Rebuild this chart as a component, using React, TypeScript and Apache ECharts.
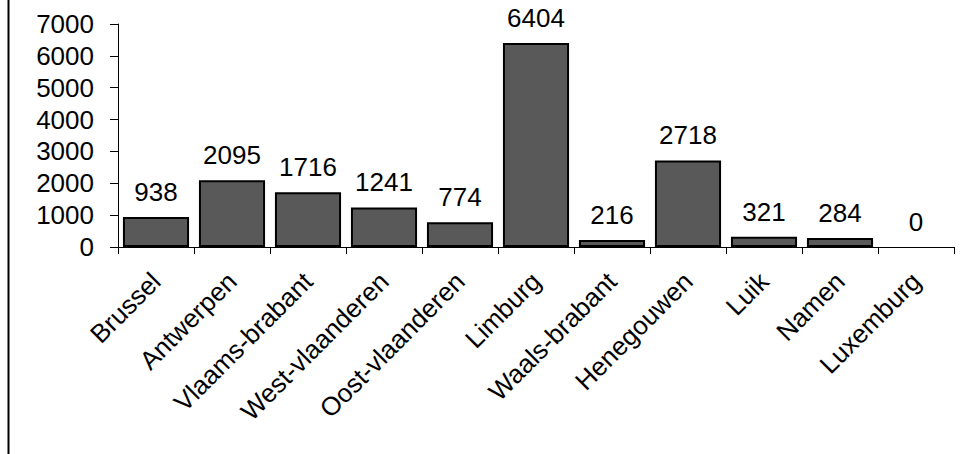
import React, { useEffect, useRef } from "react";
import * as echarts from "echarts";

const categories = [
  "Brussel",
  "Antwerpen",
  "Vlaams-brabant",
  "West-vlaanderen",
  "Oost-vlaanderen",
  "Limburg",
  "Waals-brabant",
  "Henegouwen",
  "Luik",
  "Namen",
  "Luxemburg",
];
const values = [938, 2095, 1716, 1241, 774, 6404, 216, 2718, 321, 284, 0];
const yMin = 0;
const yMax = 7000;
const yStep = 1000;

const FONT = "'Liberation Sans', Arial, sans-serif";

export default function App() {
  const ref = useRef<HTMLDivElement>(null);
  useEffect(() => {
    document.body.style.margin = "0";
    if (!ref.current) return;
    const chart = echarts.init(ref.current, undefined, { renderer: "svg" });
    chart.setOption({
      animation: false,
      backgroundColor: "#ffffff",
      grid: { left: 118, right: 13, top: 24, bottom: 207, containLabel: false },
      graphic: [
        {
          type: "line",
          shape: { x1: 8.5, y1: 0, x2: 8.5, y2: 454 },
          style: { stroke: "#000000", lineWidth: 2 },
          silent: true,
        },
      ],
      xAxis: {
        type: "category",
        data: categories,
        axisLine: { show: true, lineStyle: { color: "#000000", width: 1 } },
        axisTick: { show: true, alignWithLabel: false, length: 7, lineStyle: { color: "#000000" } },
        axisLabel: {
          interval: 0,
          rotate: 45,
          margin: 30,
          color: "#000000",
          fontSize: 26,
          fontFamily: FONT,
        },
      },
      yAxis: {
        type: "value",
        min: yMin,
        max: yMax,
        interval: yStep,
        splitLine: { show: false },
        axisLine: { show: true, lineStyle: { color: "#000000", width: 1 } },
        axisTick: { show: true, length: 8, lineStyle: { color: "#000000" } },
        axisLabel: {
          margin: 24,
          color: "#000000",
          fontSize: 26,
          fontFamily: FONT,
          formatter: (v: number) => String(v),
        },
      },
      series: [
        {
          type: "bar",
          data: values.map((v) =>
            v === 0 ? { value: v, itemStyle: { borderWidth: 0, opacity: 0 }, label: { opacity: 1 } } : v
          ),
          barCategoryGap: "13%",
          itemStyle: { color: "#595959", borderColor: "#000000", borderWidth: 2 },
          label: {
            show: true,
            position: "top",
            distance: 12,
            color: "#000000",
            fontSize: 26,
            fontFamily: FONT,
          },
        },
      ],
    });
    return () => chart.dispose();
  }, []);
  return <div ref={ref} style={{ width: 967, height: 454 }} />;
}
